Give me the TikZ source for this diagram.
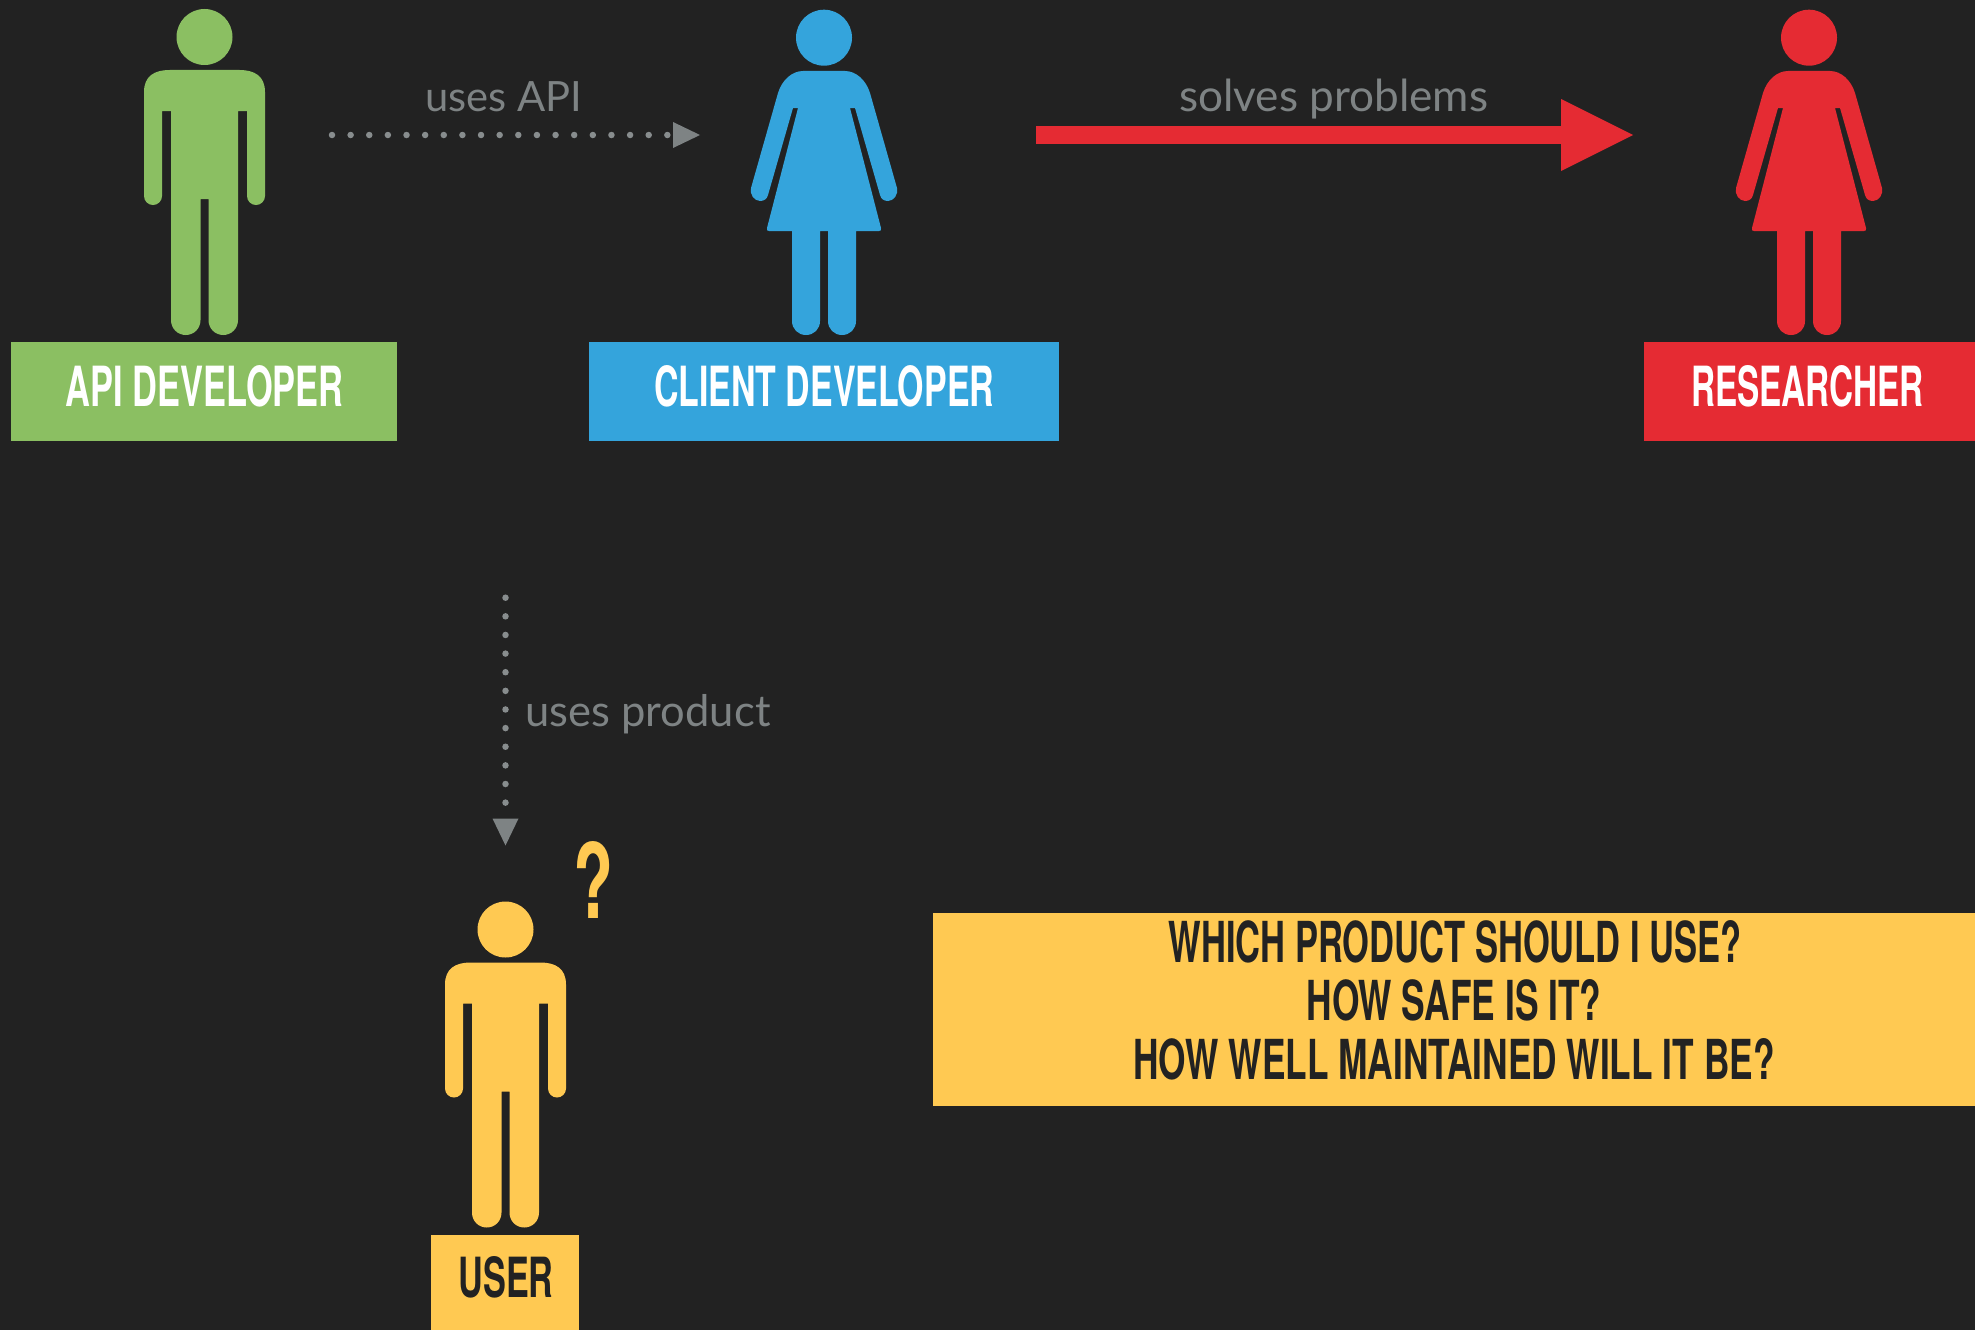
\documentclass[tikz,border=0pt]{standalone}
\usepackage{graphicx}
\usepackage{fontspec}
\setmainfont{TeX Gyre Heros}
\newfontfamily\labelfont{Lato}
\usetikzlibrary{arrows.meta}
\definecolor{cbg}{HTML}{222222}
\definecolor{cgreen}{HTML}{8BBF62}
\definecolor{cblue}{HTML}{34A4DC}
\definecolor{cred}{HTML}{E52B33}
\definecolor{cyel}{HTML}{FFC952}
\definecolor{cgrey}{HTML}{7E8384}
\newcommand{\capfit}[3]{\resizebox{#1pt}{#2pt}{\bfseries #3}}
\newcommand{\lblfit}[2]{\resizebox{#1pt}{!}{\labelfont #2}}
\tikzset{
  box/.style={inner sep=0pt,outer sep=0pt,draw=none,anchor=north west},
  captext/.style={inner sep=0pt,outer sep=0pt,anchor=base west},
  edgelabel/.style={inner sep=0pt,outer sep=0pt,anchor=base west,text=cgrey},
  dotline/.style={cgrey!92!white,line width=6.5pt,line cap=round,dash pattern=on 0pt off 18.63pt,
    -{Triangle[length=27pt,width=26pt,line width=0pt,fill=cgrey,color=cgrey,sep=0pt]}},
  redarrow/.style={cred,line width=18.5pt,-{Triangle[length=72pt,width=72pt,line width=0pt]}},
  man/.pic={
    \fill[pic actions] (0,37) circle[radius=28];
    \fill[pic actions] (-35,70) .. controls (-50,70) and (-60.5,76) .. (-60.5,92)
      -- (-60.5,196) .. controls (-60.5,201) and (-56.5,205) .. (-51.5,205)
      .. controls (-46.5,205) and (-42.5,201) .. (-42.5,196)
      -- (-42.5,111) -- (-33.5,111) -- (-33.5,320)
      .. controls (-33.5,328.5) and (-27,335) .. (-18.75,335)
      .. controls (-10.5,335) and (-4,328.5) .. (-4,320)
      -- (-4,199) -- (4,199) -- (4,320)
      .. controls (4,328.5) and (10.5,335) .. (18.75,335)
      .. controls (27,335) and (33.5,328.5) .. (33.5,320)
      -- (33.5,111) -- (42.5,111) -- (42.5,196)
      .. controls (42.5,201) and (46.5,205) .. (51.5,205)
      .. controls (56.5,205) and (60.5,201) .. (60.5,196)
      -- (60.5,92) .. controls (60.5,76) and (50,70) .. (35,70) -- cycle;
  },
  woman/.pic={
    \fill[pic actions] (0,37.7) circle[radius=28];
    \fill[pic actions] (-21,71) .. controls (-32,71) and (-42,80) .. (-46,93)
      -- (-73,188) .. controls (-74.5,194) and (-70,201) .. (-64,201)
      .. controls (-60,201) and (-57,199) .. (-56,195)
      -- (-31,108) -- (-26,108) -- (-57,228) .. controls (-57.5,230) and (-57,231) .. (-55,231)
      -- (-32,231) -- (-32,321) .. controls (-32,329) and (-26,335) .. (-18,335)
      .. controls (-10,335) and (-4,329) .. (-4,321)
      -- (-4,231) -- (4,231) -- (4,321)
      .. controls (4,329) and (10,335) .. (18,335)
      .. controls (26,335) and (32,329) .. (32,321)
      -- (32,231) -- (55,231) .. controls (57,231) and (57.5,230) .. (57,228)
      -- (26,108) -- (31,108) -- (56,195)
      .. controls (57,199) and (60,201) .. (64,201)
      .. controls (70,201) and (74.5,194) .. (73,188)
      -- (46,93) .. controls (42,80) and (32,71) .. (21,71) -- cycle;
  }
}
\begin{document}
\begin{tikzpicture}[x=1pt,y=-1pt]
\useasboundingbox (0,0) rectangle (1975,1330);
\fill[cbg] (0,0) rectangle (1975,1330);
% figures
\pic[fill=cgreen] at (204.5,0) {man};
\pic[fill=cblue] at (824,0) {woman};
\pic[fill=cred] at (1809,0) {woman};
\pic[fill=cyel] at (505.5,892.5) {man};
% boxes
\node[box,fill=cgreen,minimum width=386pt,minimum height=99pt] (apibox) at (11,342) {};
\node[box,fill=cblue,minimum width=470pt,minimum height=99pt] (clientbox) at (589,342) {};
\node[box,fill=cred,minimum width=331pt,minimum height=99pt] (resbox) at (1644,342) {};
\node[box,fill=cyel,minimum width=148pt,minimum height=95pt] (userbox) at (431,1235) {};
\node[box,fill=cyel,minimum width=1042pt,minimum height=193pt] (qbox) at (933,913) {};
% box texts
\node[captext,text=white] (apitext) at (65.5,406) {\capfit{278}{41}{API DEVELOPER}};
\node[captext,text=white] (clienttext) at (654,406) {\capfit{340}{41}{CLIENT DEVELOPER}};
\node[captext,text=white] (restext) at (1691,406) {\capfit{233}{41}{RESEARCHER}};
\node[captext,text=cbg] (usertext) at (458.5,1297) {\capfit{95}{41}{USER}};
\node[captext,text=cbg] (q1) at (1168.5,962) {\capfit{573}{42}{WHICH PRODUCT SHOULD I USE?}};
\node[captext,text=cbg] (q2) at (1306.5,1020) {\capfit{295}{41}{HOW SAFE IS IT?}};
\node[captext,text=cbg] (q3) at (1133.5,1079) {\capfit{641}{41}{HOW WELL MAINTAINED WILL IT BE?}};
\node[captext,text=cyel] (qmark) at (573,918) {\capfit{40}{77}{?}};
% edge labels
\node[edgelabel] (lapi) at (425,111.5) {\lblfit{157}{uses API}};
\node[edgelabel] (lsolve) at (1179,111.5) {\lblfit{309}{solves problems}};
\node[edgelabel] (lprod) at (525.5,726) {\lblfit{245}{uses product}};
% connectors
\coordinate (a1) at (332,135);
\coordinate (a2) at (700,135);
\draw[dotline] (a1) -- (a2);
\coordinate (c1) at (505.5,597.7);
\coordinate (c2) at (505.5,845.5);
\draw[dotline] (c1) -- (c2);
\coordinate (b1) at (1036,135);
\coordinate (b2) at (1633,135);
\draw[redarrow] (b1) -- (b2);
\end{tikzpicture}
\end{document}
